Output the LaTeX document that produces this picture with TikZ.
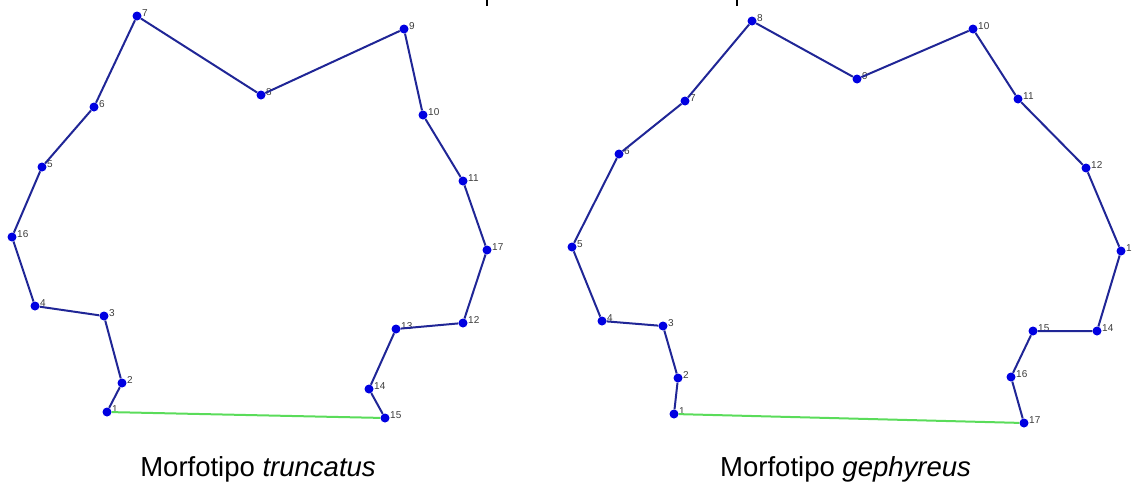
\documentclass[tikz,border=0pt]{standalone}
\usepackage{fontspec}
\setmainfont{Liberation Sans}
\definecolor{dotblue}{RGB}{0,0,225}
\definecolor{lineblue}{RGB}{32,38,150}
\definecolor{basegreen}{RGB}{90,220,90}
\definecolor{labelgray}{RGB}{60,60,60}
\begin{document}
\begin{tikzpicture}[x=1pt,y=-1pt,
  pt/.style={circle,fill=dotblue,inner sep=0pt,minimum size=9pt},
  lbl/.style={font=\fontsize{10}{10}\selectfont,text=labelgray,inner sep=0.3pt,yshift=3pt},
  outline/.style={draw=lineblue,line width=2pt,line join=round},
  baseline/.style={draw=basegreen,line width=2pt},
  caption/.style={font=\fontsize{27.5}{27.5}\selectfont,inner sep=0pt},
  mark stub/.style={draw=black,line width=2.5pt}]
\useasboundingbox (0,0) rectangle (1132,485);
% cropped text fragments at the top edge
\draw[mark stub] (487,0) -- (487,6);
\draw[mark stub] (737,0) -- (737,6);
% left outline (truncatus)
\foreach \n/\x/\y in {1/107/412, 2/122/383, 3/104/316, 4/35/306, 16/12/237,
  5/42/167, 6/94/107, 7/137/16, 8/261/95, 9/404/29, 10/423/115, 11/463/181,
  17/487/250, 12/463/323, 13/396/329, 14/369/389, 15/385/418}
  \node[pt,label={[lbl]right:\n}] (L\n) at (\x,\y) {};
\draw[outline] (L1) -- (L2) -- (L3) -- (L4) -- (L16) -- (L5) -- (L6) -- (L7)
  -- (L8) -- (L9) -- (L10) -- (L11) -- (L17) -- (L12) -- (L13) -- (L14) -- (L15);
\draw[baseline] (L15) -- (L1);
% right outline (gephyreus)
\foreach \n/\x/\y in {1/674/414, 2/678/378, 3/663/326, 4/602/321, 5/572/247,
  6/619/154, 7/685/101, 8/752/21, 9/857/79, 10/973/29, 11/1018/99,
  12/1086/168, 13/1121/251, 14/1097/331, 15/1033/331, 16/1011/377, 17/1024/423}
  \node[pt,label={[lbl]right:\n}] (R\n) at (\x,\y) {};
\draw[outline] (R1) -- (R2) -- (R3) -- (R4) -- (R5) -- (R6) -- (R7) -- (R8)
  -- (R9) -- (R10) -- (R11) -- (R12) -- (R13) -- (R14) -- (R15) -- (R16) -- (R17);
\draw[baseline] (R17) -- (R1);
% captions
\node[caption,anchor=base] (capL) at (258,476) {Morfotipo \textit{truncatus}};
\node[caption,anchor=base west] (capR) at (720,476) {Morfotipo \textit{gephyreus}};
\end{tikzpicture}
\end{document}
